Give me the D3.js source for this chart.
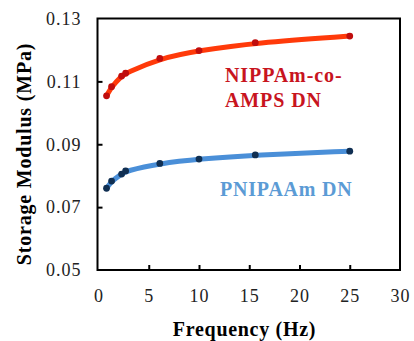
<!DOCTYPE html>
<html>
<head>
<meta charset="utf-8">
<script src="https://cdn.jsdelivr.net/npm/d3@7"></script>
<style>
  body { margin: 0; background: #fff; }
  svg { display: block; }
  text { font-family: "Liberation Serif", "Times New Roman", serif; }
</style>
</head>
<body>
<svg id="chart" width="414" height="341"></svg>
<script>
// data
const freq     = [0.8, 1.3, 2.3, 2.7, 6.1, 10, 15.6, 25];
const copolyDN = [0.1054, 0.1083, 0.1117, 0.1126, 0.1173, 0.1198, 0.1223, 0.1244];
const pnipaDN  = [0.0760, 0.0783, 0.0805, 0.0815, 0.0839, 0.0853, 0.0866, 0.0878];
const xTicks = [0, 5, 10, 15, 20, 25, 30];
const yTicks = [0.05, 0.07, 0.09, 0.11, 0.13];

const margin = { l: 98.5, t: 18.5, r: 14, b: 71 };
const svg = d3.select('#chart');
const W = +svg.attr('width'), H = +svg.attr('height');

const x = d3.scaleLinear().domain([0, 30]).range([margin.l, W - margin.r]);
const y = d3.scaleLinear().domain([0.05, 0.13]).range([H - margin.b, margin.t]);

// frame
svg.append('rect')
    .attr('x', x(0) - 1).attr('y', y(0.13))
    .attr('width', x(30) - x(0) + 1).attr('height', y(0.05) - y(0.13))
    .attr('fill', 'none').attr('stroke', '#000').attr('stroke-width', 2);

const xAxis = d3.axisBottom(x).tickValues(xTicks).tickSizeInner(-5).tickSizeOuter(0).tickPadding(19);
const yAxis = d3.axisLeft(y).tickValues(yTicks).tickFormat(d3.format('.2f')).tickSizeInner(-5).tickSizeOuter(0).tickPadding(16);

const gx = svg.append('g').attr('transform', `translate(0,${y(0.05)})`).call(xAxis);
const gy = svg.append('g').attr('transform', `translate(${x(0) - 1},0)`).call(yAxis);
[gx, gy].forEach(g => {
    g.select('.domain').remove();
    g.selectAll('.tick line').attr('stroke', '#000').attr('stroke-width', 2);
    g.selectAll('.tick text').attr('font-size', 18).attr('fill', '#222')
        .style('letter-spacing', '1px')
        .style('font-family', '"Liberation Serif", serif');
});
gx.selectAll('.tick').filter(d => d === 0 || d === 30).select('line').remove();
gy.selectAll('.tick').filter(d => d === 0.05 || d === 0.13).select('line').remove();

const line = d3.line()
    .x((d, i) => x(freq[i]))
    .y(d => y(d))
    .curve(d3.curveBasis);

const series = [
    { vals: copolyDN, line: '#ff3a0a', dot: '#c00d0d' },
    { vals: pnipaDN,  line: '#4a8fd8', dot: '#102f52' },
];
series.forEach(s => {
    svg.append('path').attr('d', line(s.vals))
        .attr('fill', 'none').attr('stroke', s.line)
        .attr('stroke-width', 5).attr('stroke-linecap', 'round');
    svg.selectAll(null).data(s.vals).enter().append('circle')
        .attr('cx', (d, i) => x(freq[i])).attr('cy', d => y(d))
        .attr('r', 3.4).attr('fill', s.dot);
});

// series labels
const lab = svg.append('text').attr('font-weight', 'bold').attr('font-size', 20)
    .style('letter-spacing', '0.9px').attr('fill', '#c8141e');
lab.append('tspan').attr('x', 225).attr('y', 81.5).text('NIPPAm-co-');
lab.append('tspan').attr('x', 225).attr('y', 106.5).text('AMPS DN');
svg.append('text').attr('x', 220).attr('y', 196).attr('font-weight', 'bold')
    .style('letter-spacing', '0.8px')
    .attr('font-size', 20).attr('fill', '#5b9bd5').text('PNIPAAm DN');

// axis titles
svg.append('text').attr('x', 244.5).attr('y', 336).attr('text-anchor', 'middle')
    .style('letter-spacing', '0.7px')
    .attr('font-weight', 'bold').attr('font-size', 20).text('Frequency (Hz)');
svg.append('text').attr('transform', 'translate(31,154) rotate(-90)')
    .style('letter-spacing', '0.8px')
    .attr('text-anchor', 'middle').attr('font-weight', 'bold').attr('font-size', 20)
    .text('Storage Modulus (MPa)');
</script>
</body>
</html>
